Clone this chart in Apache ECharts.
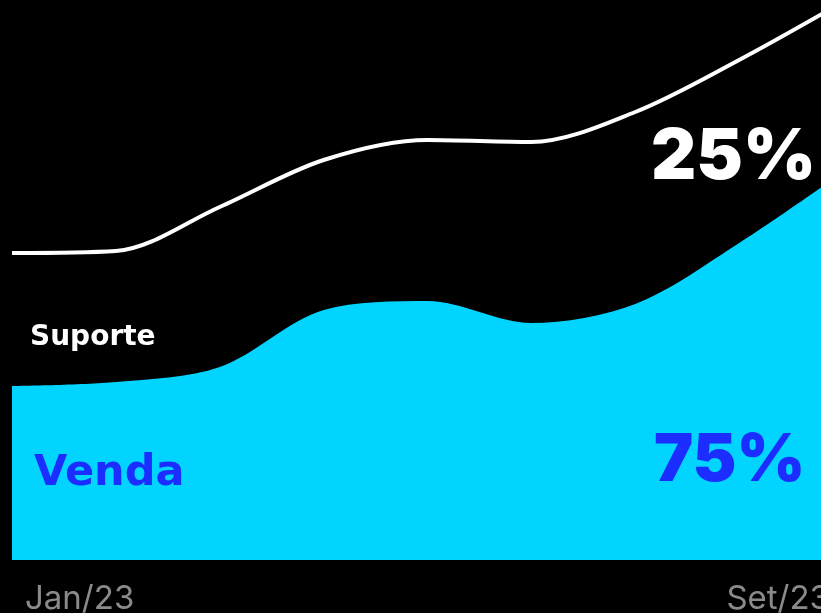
<!DOCTYPE html>
<html>
<head>
<meta charset="utf-8">
<style>
  html, body { margin: 0; padding: 0; background: #000; }
  #chart { width: 821px; height: 613px; }
</style>
<script src="https://cdn.jsdelivr.net/npm/echarts@6/dist/echarts.min.js"></script>
</head>
<body>
<div id="chart"></div>
<script>
// Months of the period (Jan/23 .. Set/23)
const months = ['Jan/23', 'Fev/23', 'Mar/23', 'Abr/23', 'Mai/23', 'Jun/23', 'Jul/23', 'Ago/23', 'Set/23'];
// Volume per month, by channel (stacked: Suporte sits on top of Venda)
const venda   = [174, 178, 193, 250, 259, 237, 256, 317, 388];
const suporte = [133, 131, 160, 150, 161, 181, 192, 183, 170];
// Share of each channel in the last month
const shareVenda = '75%';
const shareSuporte = '25%';

const chart = echarts.init(document.getElementById('chart'), null, { renderer: 'canvas' });

const labelFont = '"DejaVu Sans", Inter, sans-serif';
const bigFont = 'Inter, "Noto Sans", sans-serif';

chart.setOption({
  backgroundColor: '#000000',
  animation: false,
  // the plot runs a little past the right edge of the canvas
  grid: {
    left: 12, width: 831, top: 0, bottom: 53,
    containLabel: false,
    outerBoundsMode: 'none'
  },
  xAxis: {
    type: 'category',
    data: months,
    boundaryGap: false,
    axisLine: { show: false },
    axisTick: { show: false },
    splitLine: { show: false },
    axisLabel: {
      interval: (i) => i === 0 || i === months.length - 1,
      color: '#8a8a8a',
      fontFamily: 'Inter, "Noto Sans", sans-serif',
      fontSize: 33,
      margin: 23,
      padding: [0, 13, 0, 13],
      alignMinLabel: 'left',
      alignMaxLabel: 'right'
    }
  },
  yAxis: {
    type: 'value',
    min: 0,
    max: 560,
    show: false
  },
  series: [
    {
      name: 'Venda',
      type: 'line',
      stack: 'total',
      data: venda,
      smooth: 0.32,
      symbol: 'none',
      lineStyle: { width: 0 },
      areaStyle: { color: '#00d4ff', opacity: 1 },
      z: 2
    },
    {
      name: 'Suporte',
      type: 'line',
      stack: 'total',
      data: suporte,
      smooth: 0.32,
      symbol: 'none',
      lineStyle: { color: '#ffffff', width: 4 },
      z: 3
    }
  ],
  graphic: [
    {
      type: 'text', left: 30, top: 324, z: 10,
      style: { text: 'Suporte', fill: '#ffffff', font: `bold 28px ${labelFont}` }
    },
    {
      type: 'text', left: 34, top: 452, z: 10,
      style: { text: 'Venda', fill: '#1b2dff', font: `bold 43px ${labelFont}` }
    },
    {
      type: 'text', left: 651, top: 123, z: 10,
      style: { text: shareSuporte, fill: '#ffffff', font: `900 70px ${bigFont}` }
    },
    {
      type: 'text', left: 654, top: 428, z: 10,
      style: { text: shareVenda, fill: '#1b2dff', font: `900 66px ${bigFont}` }
    }
  ]
});
</script>
</body>
</html>
